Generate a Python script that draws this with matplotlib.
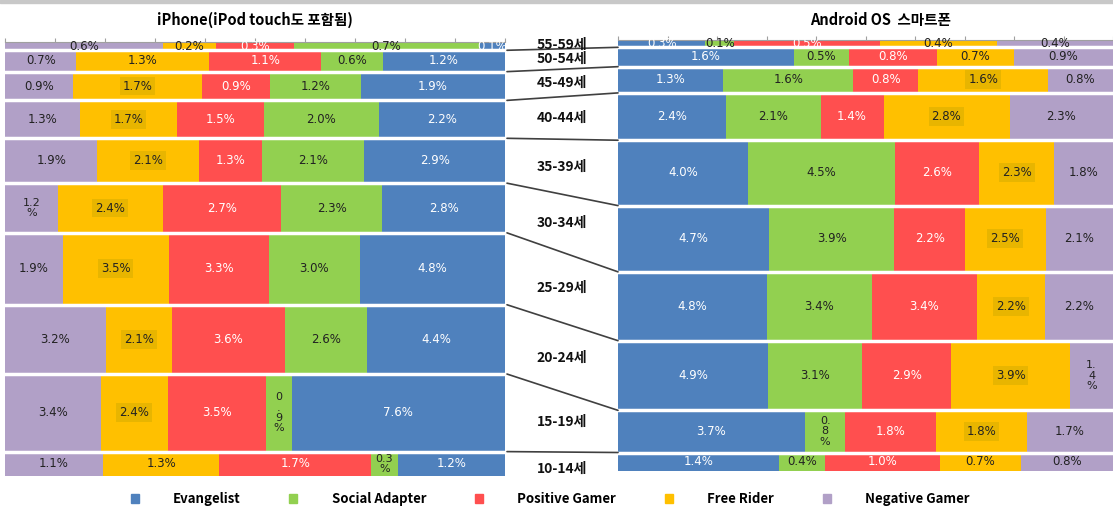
import matplotlib.pyplot as plt
import numpy as np
from matplotlib.patches import ConnectionPatch, Patch, Rectangle

plt.rcParams['font.family'] = ['Noto Sans CJK KR', 'DejaVu Sans']

ages = ["55-59세", "50-54세", "45-49세", "40-44세", "35-39세",
        "30-34세", "25-29세", "20-24세", "15-19세", "10-14세"]
types = ["Evangelist", "Social Adapter", "Positive Gamer", "Free Rider", "Negative Gamer"]
colors = ["#4F81BD", "#92D050", "#FF4F4F", "#FFC000", "#B1A0C7"]

# iPhone (incl. iPod touch), % per age group
iphone_evangelist = [0.1, 1.2, 1.9, 2.2, 2.9, 2.8, 4.8, 4.4, 7.6, 1.2]
iphone_social = [0.7, 0.6, 1.2, 2.0, 2.1, 2.3, 3.0, 2.6, 0.9, 0.3]
iphone_positive = [0.3, 1.1, 0.9, 1.5, 1.3, 2.7, 3.3, 3.6, 3.5, 1.7]
iphone_free = [0.2, 1.3, 1.7, 1.7, 2.1, 2.4, 3.5, 2.1, 2.4, 1.3]
iphone_negative = [0.6, 0.7, 0.9, 1.3, 1.9, 1.2, 1.9, 3.2, 3.4, 1.1]

# Android OS smartphones
android_evangelist = [0.3, 1.6, 1.3, 2.4, 4.0, 4.7, 4.8, 4.9, 3.7, 1.4]
android_social = [0.1, 0.5, 1.6, 2.1, 4.5, 3.9, 3.4, 3.1, 0.8, 0.4]
android_positive = [0.5, 0.8, 0.8, 1.4, 2.6, 2.2, 3.4, 2.9, 1.8, 1.0]
android_free = [0.4, 0.7, 1.6, 2.8, 2.3, 2.5, 2.2, 3.9, 1.8, 0.7]
android_negative = [0.4, 0.9, 0.8, 2.3, 1.8, 2.1, 2.2, 1.4, 1.7, 0.8]

# labels that are wrapped in narrow cells: (row, type) -> text
iphone_wrapped = {(8, 1): "0\n.\n9\n%", (9, 1): "0.3\n%", (5, 4): "1.2\n%"}
android_wrapped = {(8, 1): "0.\n8\n%", (7, 4): "1.\n4\n%"}

W, H = 1113, 509
fig = plt.figure(figsize=(W / 100, H / 100), dpi=100)
fig.patches.append(Rectangle((0, 1 - 3 / H), 1, 3 / H, transform=fig.transFigure,
                             color="#C8C8C8", zorder=0))

axL = fig.add_axes([5 / W, 1 - 476 / H, 500 / W, 434 / H])
axR = fig.add_axes([618 / W, 1 - 471 / H, 495 / W, 431 / H])


def draw_panel(ax, series, order, wrapped):
    vals = np.array(series)
    totals = vals.sum(axis=0)
    tops = np.concatenate([[0], np.cumsum(totals)])
    for i in range(len(totals)):
        left = 0.0
        yc = tops[i] + totals[i] / 2
        for k in order:
            w = vals[k, i] / totals[i]
            ax.barh(yc, w, left=left, height=totals[i], color=colors[k], linewidth=0)
            txt = wrapped.get((i, k), f"{vals[k, i]:.1f}%")
            tc = "white" if k in (0, 2) else "#222222"
            bbox = None
            if k == 3 and totals[i] > 6:
                bbox = dict(boxstyle="square,pad=0.25", fc="#E8B500", ec="none")
            fs = 8.5 if "\n" not in txt else 8
            ax.text(left + w / 2, yc, txt, ha="center", va="center", color=tc,
                    fontsize=fs, family="DejaVu Sans", linespacing=1.05, bbox=bbox)
            left += w
    for b in tops[1:-1]:
        ax.axhline(b, color="white", lw=2.5)
    ax.set_xlim(0, 1)
    ax.set_ylim(tops[-1], 0)
    ax.set_yticks([])
    ax.xaxis.tick_top()
    ax.set_xticks(np.arange(0, 1.01, 0.1))
    ax.tick_params(axis="x", length=3, color="#A0A0A0", labeltop=False, labelbottom=False)
    for s in ("left", "right", "bottom"):
        ax.spines[s].set_visible(False)
    ax.spines["top"].set_color("#A0A0A0")
    return tops


topsL = draw_panel(axL, [iphone_evangelist, iphone_social, iphone_positive,
                         iphone_free, iphone_negative], [4, 3, 2, 1, 0], iphone_wrapped)
topsR = draw_panel(axR, [android_evangelist, android_social, android_positive,
                         android_free, android_negative], [0, 1, 2, 3, 4], android_wrapped)

# connector lines between matching age-group boundaries
for j in range(1, len(ages)):
    con = ConnectionPatch(xyA=(1.004, topsL[j]), coordsA=axL.get_yaxis_transform(),
                          xyB=(0, topsR[j]), coordsB=axR.get_yaxis_transform(),
                          color="#404040", lw=1.2)
    fig.add_artist(con)

# age labels in the middle column
inv = fig.transFigure.inverted()
for i, age in enumerate(ages):
    yl = inv.transform(axL.transData.transform((0, (topsL[i] + topsL[i + 1]) / 2)))[1]
    yr = inv.transform(axR.transData.transform((0, (topsR[i] + topsR[i + 1]) / 2)))[1]
    y = (yl + yr) / 2
    if i == len(ages) - 1:
        y -= 6 / H
    fig.text(562 / W, y, age, ha="center", va="center",
             fontsize=10, fontweight="bold", color="#111111")

fig.text(255 / W, 1 - 20 / H, "iPhone(iPod touch도 포함됨)", ha="center", va="center",
         fontsize=10.5, fontweight="bold")
fig.text(880 / W, 1 - 20 / H, "Android OS  스마트폰", ha="center", va="center",
         fontsize=10.5, fontweight="bold")

handles = [Patch(color=c) for c in colors]
fig.legend(handles, types, loc="center", bbox_to_anchor=(550 / W, 1 - 499 / H), ncol=5,
           frameon=False, handlelength=0.6, handleheight=0.6, handletextpad=2.6,
           columnspacing=3.7, prop=dict(family="Noto Sans CJK KR", weight="bold", size=9.5))

fig.savefig("out.png", dpi=100)
